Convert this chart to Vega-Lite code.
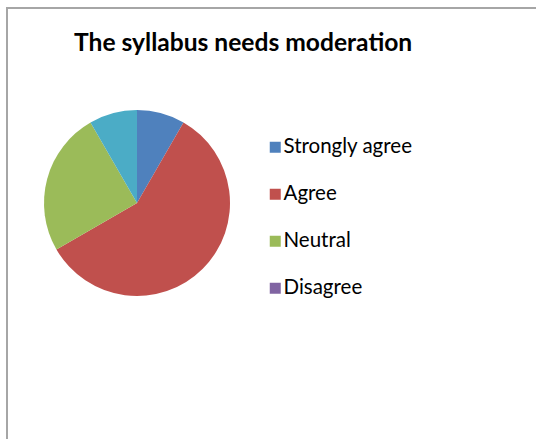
{
  "$schema": "https://vega.github.io/schema/vega-lite/v6.json",
  "width": 540,
  "height": 440,
  "autosize": {"type": "none"},
  "padding": {"left": 7, "top": 8, "right": 0, "bottom": 0},
  "background": "white",
  "config": {
    "view": {"stroke": "#a6a6a6", "strokeWidth": 2},
    "font": "Lato"
  },
  "title": {
    "text": "The syllabus needs moderation",
    "anchor": "start",
    "frame": "group",
    "orient": "top",
    "offset": 0,
    "baseline": "alphabetic",
    "dx": 67,
    "dy": 68,
    "font": "Lato",
    "fontSize": 24.6,
    "fontWeight": "bold",
    "color": "#000000"
  },
  "data": {
    "values": [
      {"response": "Strongly agree", "count": 3, "order": 1},
      {"response": "Agree", "count": 21, "order": 2},
      {"response": "Neutral", "count": 9, "order": 3},
      {"response": "Disagree", "count": 0, "order": 4},
      {"response": "Strongly disagree", "count": 3, "order": 5}
    ]
  },
  "mark": {"type": "arc", "radius": 93},
  "encoding": {
    "x": {"value": 130},
    "y": {"value": 195},
    "theta": {"field": "count", "type": "quantitative", "stack": true},
    "order": {"field": "order", "type": "quantitative"},
    "color": {
      "field": "response",
      "type": "nominal",
      "scale": {
        "domain": ["Strongly agree", "Agree", "Neutral", "Disagree", "Strongly disagree"],
        "range": ["#4F81BD", "#C0504D", "#9BBB59", "#8064A2", "#4BACC6"]
      },
      "legend": {
        "title": null,
        "values": ["Strongly agree", "Agree", "Neutral", "Disagree"],
        "orient": "none",
        "legendX": 258,
        "legendY": 129,
        "symbolType": "square",
        "symbolSize": 121,
        "symbolStrokeWidth": 0,
        "labelFont": "Lato",
        "labelFontSize": 20.5,
        "labelColor": "#000000",
        "labelOffset": -2,
        "rowPadding": 26
      }
    }
  }
}
